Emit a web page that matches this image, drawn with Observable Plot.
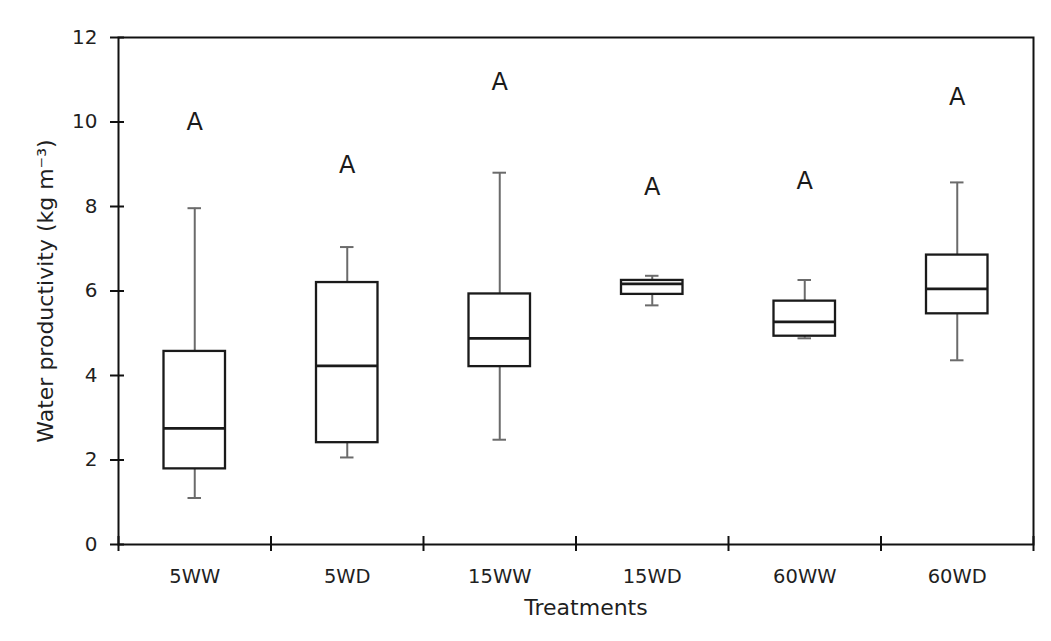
<!DOCTYPE html>
<html>
<head>
<meta charset="utf-8">
<script src="https://cdn.jsdelivr.net/npm/d3@7"></script>
<script src="https://cdn.jsdelivr.net/npm/@observablehq/plot@0.6"></script>
<style>
  html, body { margin: 0; padding: 0; background: #fff; }
  #wrap { position: relative; width: 1051px; height: 641px; overflow: hidden; }
  #border { position: absolute; left: 8px; top: 6px; width: 1060px; height: 700px; border: 2px solid #e3e3e3; box-sizing: border-box; }
  #chart { position: absolute; left: 0; top: 0; }
</style>
</head>
<body>
<div id="wrap"><div id="border"></div><div id="chart"></div></div>
<script>
const categories = ["5WW", "5WD", "15WW", "15WD", "60WW", "60WD"];
const whiskerLow  = [1.10, 2.06, 2.48, 5.66, 4.88, 4.36];
const boxLow      = [1.79, 2.41, 4.21, 5.92, 4.93, 5.46];
const medians     = [2.75, 4.23, 4.88, 6.17, 5.27, 6.05];
const boxHigh     = [4.57, 6.20, 5.93, 6.25, 5.76, 6.85];
const whiskerHigh = [7.96, 7.04, 8.80, 6.36, 6.26, 8.57];
const letters     = ["A", "A", "A", "A", "A", "A"];
const letterY     = [10.0, 8.97, 10.93, 8.45, 8.6, 10.59];
const yTicks = [0, 2, 4, 6, 8, 10, 12];

const rows = categories.map((c, i) => ({
  cat: c, i, lo: whiskerLow[i], q1: boxLow[i], med: medians[i], q3: boxHigh[i], hi: whiskerHigh[i],
  letter: letters[i], ly: letterY[i]
}));
const boundaries = d3.range(categories.length + 1);
const centers = categories.map((c, i) => i + 0.5);

const font = "'DejaVu Sans', sans-serif";
const chart = Plot.plot({
  width: 1051,
  height: 641,
  marginLeft: 118,
  marginRight: 18,
  marginTop: 37,
  marginBottom: 97,
  style: { fontFamily: font, background: "white", color: "#1f1f1f" },
  x: { type: "linear", domain: [0, categories.length] },
  y: { domain: [0, 12] },
  marks: [
    Plot.ruleX(rows, { x: d => d.i + 0.5, y1: "lo", y2: "hi", stroke: "#6b6b6b", strokeWidth: 2 }),
    Plot.ruleY(rows, { x1: d => d.i, x2: d => d.i + 1, y: "lo", stroke: "#6b6b6b", strokeWidth: 2, insetLeft: 69.5, insetRight: 69.5 }),
    Plot.ruleY(rows, { x1: d => d.i, x2: d => d.i + 1, y: "hi", stroke: "#6b6b6b", strokeWidth: 2, insetLeft: 69.5, insetRight: 69.5 }),
    Plot.rectY(rows, { x1: d => d.i, x2: d => d.i + 1, y1: "q1", y2: "q3", fill: "white", stroke: "#1a1a1a", strokeWidth: 2.3, insetLeft: 45.5, insetRight: 45.5 }),
    Plot.ruleY(rows, { x1: d => d.i, x2: d => d.i + 1, y: "med", stroke: "#1a1a1a", strokeWidth: 2.7, insetLeft: 45.5, insetRight: 45.5 }),
    Plot.text(rows, { x: d => d.i + 0.5, y: "ly", text: "letter", fontSize: 24, fill: "#1a1a1a" }),
    Plot.frame({ stroke: "#111", strokeWidth: 2 }),
    Plot.axisY({ ticks: yTicks, tickSize: 8, tickPadding: 13, tickFormat: d3.format("d"), fontSize: 20, stroke: "#111", strokeWidth: 2, fill: "#1f1f1f",
      label: "Water productivity (kg m⁻³)", labelAnchor: "center", labelArrow: "none", labelOffset: 81 }),
    Plot.axisY({ ticks: yTicks, tickSize: -6, text: null, label: null, stroke: "#111", strokeWidth: 2 }),
    Plot.axisX({ ticks: boundaries, tickSize: 7, text: null, label: null, stroke: "#111", strokeWidth: 2 }),
    Plot.axisX({ ticks: boundaries, tickSize: -8, text: null, label: null, stroke: "#111", strokeWidth: 2 }),
    Plot.axisX({ ticks: centers, tickSize: 0, tickPadding: 25, tickFormat: d => categories[Math.floor(d)], fontSize: 19.5, fill: "#1f1f1f",
      label: "Treatments", labelAnchor: "center", labelArrow: "none", labelOffset: 70 })
  ]
});
chart.querySelectorAll("g[aria-label='y-axis label'], g[aria-label='x-axis label']").forEach(g => {
  g.setAttribute("font-size", 22);
  g.querySelectorAll("text").forEach(t => t.style.fontSize = "22px");
});
chart.querySelectorAll("g[aria-label='x-axis label'] text").forEach(t => t.setAttribute("dx", 10));
document.getElementById("chart").appendChild(chart);
</script>
</body>
</html>
